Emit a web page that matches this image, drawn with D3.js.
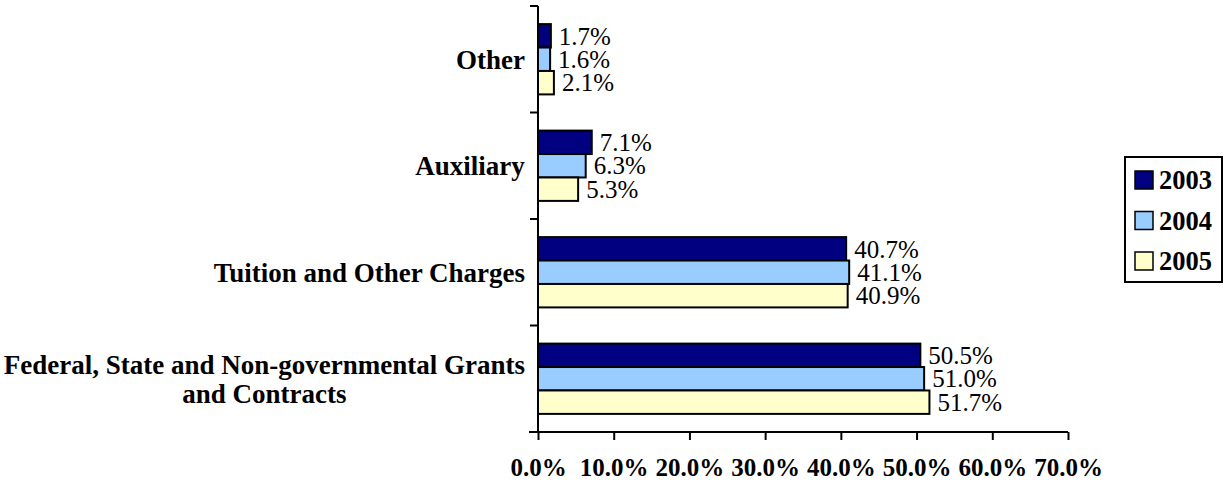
<!DOCTYPE html>
<html>
<head>
<meta charset="utf-8">
<script src="https://cdn.jsdelivr.net/npm/d3@7"></script>
<style>
  html, body { margin: 0; padding: 0; background: #fff; }
  svg { display: block; font-family: "Liberation Serif", "Times New Roman", serif; }
</style>
</head>
<body>
<div id="chart"></div>
<script>
// categories top to bottom, each may wrap onto two lines
const categories = ['Other', 'Auxiliary', 'Tuition and Other Charges', 'Federal, State and Non-governmental Grants and Contracts'];
const categoryLines = [['Other'], ['Auxiliary'], ['Tuition and Other Charges'], ['Federal, State and Non-governmental Grants', 'and Contracts']];
const years = ['2003', '2004', '2005'];
const values2003 = [1.7, 7.1, 40.7, 50.5];
const values2004 = [1.6, 6.3, 41.1, 51.0];
const values2005 = [2.1, 5.3, 40.9, 51.7];
const xTicks = [0, 10, 20, 30, 40, 50, 60, 70];

const colors = { '2003': '#000080', '2004': '#99ccff', '2005': '#ffffcc' };

const W = 1230, H = 483;
const M = { top: 6, right: 162, bottom: 51, left: 538 };
const iw = W - M.left - M.right;
const ih = H - M.top - M.bottom;

const series = { '2003': values2003, '2004': values2004, '2005': values2005 };
const rows = categories.map((c, i) => ({
  cat: c, lines: categoryLines[i],
  vals: years.map(y => ({ year: y, v: series[y][i] }))
}));

const svg = d3.select('#chart').append('svg')
  .attr('width', W).attr('height', H);
const g = svg.append('g').attr('transform', `translate(${M.left},${M.top})`);

const x = d3.scaleLinear().domain([0, 70]).range([0, iw]);
const y = d3.scaleBand().domain(categories).range([0, ih]).paddingInner(0.34).paddingOuter(0.17);
const yInner = d3.scaleBand().domain(years).range([0, y.bandwidth()]);

// bars
const grp = g.selectAll('.cat').data(rows).join('g')
  .attr('class', 'cat')
  .attr('transform', d => `translate(0,${y(d.cat)})`);

grp.selectAll('rect').data(d => d.vals).join('rect')
  .attr('x', 0)
  .attr('y', d => yInner(d.year))
  .attr('width', d => x(d.v))
  .attr('height', yInner.bandwidth())
  .attr('fill', d => colors[d.year])
  .attr('stroke', '#000')
  .attr('stroke-width', 2);

grp.selectAll('text.val').data(d => d.vals).join('text')
  .attr('class', 'val')
  .attr('x', d => x(d.v) + 8)
  .attr('y', d => yInner(d.year) + yInner.bandwidth() / 2)
  .attr('dy', '0.35em')
  .attr('font-size', 25)
  .text(d => d.v.toFixed(1) + '%');

// x axis
const xAxis = g.append('g')
  .attr('transform', `translate(0,${ih})`)
  .call(d3.axisBottom(x).tickValues(xTicks).tickSize(8).tickSizeOuter(0)
    .tickFormat(d => d.toFixed(1) + '%'));
xAxis.select('.domain').attr('stroke-width', 2).attr('d', `M-9,0H${iw}`);
xAxis.selectAll('.tick line').attr('stroke-width', 2);
xAxis.selectAll('.tick text')
  .attr('y', 26).attr('dy', '0.71em')
  .attr('font-family', '"Liberation Serif", serif')
  .attr('font-size', 25).attr('font-weight', 'bold').attr('fill', '#000');

// y axis with tick marks at band boundaries
const yAxis = g.append('g');
yAxis.append('line')
  .attr('x1', 0).attr('x2', 0).attr('y1', 0).attr('y2', ih)
  .attr('stroke', '#000').attr('stroke-width', 2);
const bounds = categories.map(c => y(c) - y.step() * y.paddingInner() / 2).concat([ih]);
bounds[0] = 0;
yAxis.selectAll('line.tk').data(bounds).join('line')
  .attr('class', 'tk')
  .attr('x1', -8).attr('x2', 0)
  .attr('y1', d => d).attr('y2', d => d)
  .attr('stroke', '#000').attr('stroke-width', 2);

// category labels: lines centred on each other, block right-aligned to the axis
const lab = g.selectAll('.clab').data(rows).join('text')
  .attr('class', 'clab')
  .attr('font-size', 27).attr('font-weight', 'bold')
  .attr('text-anchor', 'middle');
lab.each(function (d) {
  const t = d3.select(this);
  const cy = y(d.cat) + y.bandwidth() / 2;
  const n = d.lines.length;
  const sp = t.selectAll('tspan').data(d.lines).join('tspan')
    .attr('x', 0)
    .attr('y', (_, i) => cy + (i - (n - 1) / 2) * 29)
    .attr('dy', '0.35em')
    .text(s => s);
  const bw = t.node().getBBox().width;
  sp.attr('x', -13 - bw / 2);
});

// legend
const legend = svg.append('g').attr('transform', 'translate(1125,157)');
legend.append('rect')
  .attr('width', 97).attr('height', 125)
  .attr('fill', '#fff').attr('stroke', '#000').attr('stroke-width', 2);
const li = legend.selectAll('.li').data(years).join('g')
  .attr('class', 'li')
  .attr('transform', (d, i) => `translate(10,${23 + i * 40.5})`);
li.append('rect')
  .attr('x', 0).attr('y', -9).attr('width', 18).attr('height', 18)
  .attr('fill', d => colors[d]).attr('stroke', '#000').attr('stroke-width', 1.5);
li.append('text')
  .attr('x', 24).attr('dy', '0.35em')
  .attr('font-size', 26.5).attr('font-weight', 'bold')
  .text(d => d);
</script>
</body>
</html>
